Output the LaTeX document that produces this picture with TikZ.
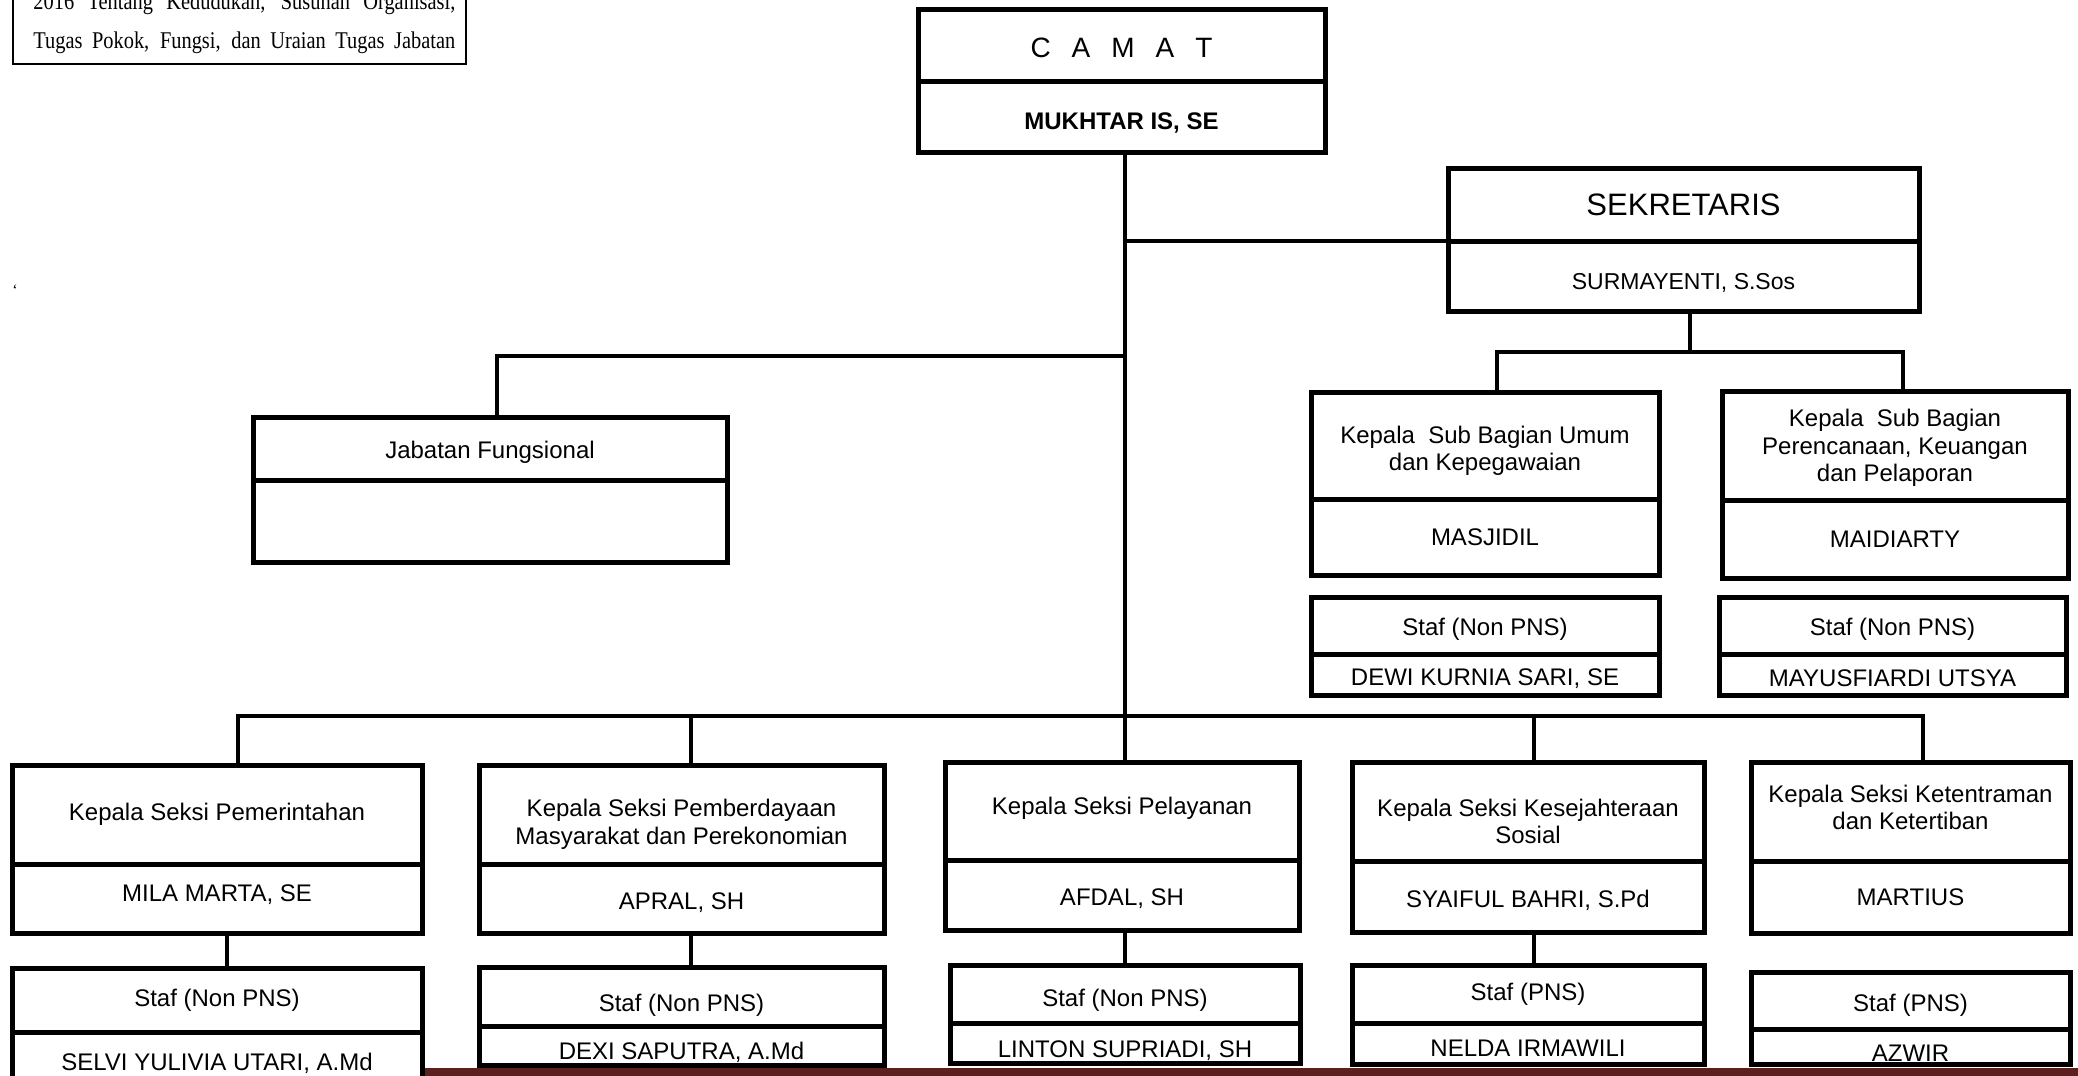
\documentclass[tikz,border=0pt]{standalone}
\usepackage{graphicx}
\usepackage{fontspec}
\setmainfont{Liberation Sans}
\newfontfamily\timesf{Liberation Serif}
\definecolor{stripred}{HTML}{5E1F1F}
\tikzset{
  part/.style={draw, line width=2.5pt, inner sep=0pt, outer sep=0pt, align=center,
    font=\fontsize{12}{13.8}\selectfont, anchor=north west},
  conn/.style={line width=2pt},
  notetext/.style={anchor=base west, inner sep=0pt, font=\timesf\fontsize{12}{14}\selectfont}
}
\newcommand{\lowr}[2]{\raisebox{-#1}[\height][\depth]{#2}}
\newcommand{\noteline}[1]{\scalebox{0.85}[1]{\makebox[248.2pt][s]{#1}}}
\newcommand{\twopart}[8]{%
  \node[part, minimum width={(#3-#2)*0.5pt}, minimum height={(#5-#4)*0.5pt}] (#1T) at (#2,#4) {#7};
  \node[part, minimum width={(#3-#2)*0.5pt}, minimum height={(#6-#5)*0.5pt}] (#1B) at (#2,#5) {#8};}
\begin{document}
\begin{tikzpicture}[x=0.5pt, y=-0.5pt]
\useasboundingbox (0,0) rectangle (2078,1076);
\begin{scope}
\clip (0,0) rectangle (2078,1076);
\fill[white] (0,0) rectangle (2078,1076);

% note box (top left)
\node[draw, line width=1pt, anchor=north west, inner sep=0pt, outer sep=0pt,
  minimum width={(466-13)*0.5pt}, minimum height={(64+20)*0.5pt}] (note) at (13,-20) {};
\node[notetext] (l1) at (33,10) {\noteline{2016 Tentang Kedudukan, Susunan Organisasi,}};
\node[notetext] (l2) at (33,48) {\noteline{Tugas Pokok, Fungsi, dan Uraian Tugas Jabatan}};
\node[inner sep=0pt, font=\timesf\fontsize{8}{9}\selectfont] (q) at (15,290) {‘};

% boxes
\twopart{camat}{918}{1325}{9}{81}{152}{\fontsize{14}{16}\selectfont\lowr{1.3pt}{C\hspace{0.75em}A\hspace{0.75em}M\hspace{0.75em}A\hspace{0.75em}T}}{\bfseries\lowr{3.3pt}{MUKHTAR IS, SE}}
\twopart{sek}{1448}{1919}{168}{241}{311}{\fontsize{15.5}{18}\selectfont SEKRETARIS}{\fontsize{11.5}{13}\selectfont\lowr{3.3pt}{SURMAYENTI, S.Sos}}
\twopart{jab}{253}{727}{417}{480}{562}{\lowr{2pt}{Jabatan Fungsional}}{}
\twopart{umum}{1311}{1659}{392}{499}{575}{\lowr{2.6pt}{Kepala\ \ Sub Bagian Umum}\\\lowr{2.6pt}{dan Kepegawaian}}{MASJIDIL}
\twopart{ren}{1722}{2068}{391}{500}{578}{\lowr{1.3pt}{Kepala\ \ Sub Bagian}\\\lowr{1.3pt}{Perencanaan, Keuangan}\\\lowr{1.3pt}{dan Pelaporan}}{MAIDIARTY}
\twopart{sumum}{1311}{1659}{597}{654}{695}{\lowr{2pt}{Staf (Non PNS)}}{\lowr{2pt}{DEWI KURNIA SARI, SE}}
\twopart{sren}{1719}{2066}{597}{654}{695}{\lowr{2pt}{Staf (Non PNS)}}{\lowr{2pt}{MAYUSFIARDI UTSYA}}

\twopart{pem}{12}{422}{765}{864}{933}{Kepala Seksi Pemerintahan}{\lowr{-2pt}{MILA MARTA, SE}}
\twopart{spem}{12}{422}{968}{1032}{1086}{Staf (Non PNS)}{\lowr{2pt}{SELVI YULIVIA UTARI, A.Md}}
\twopart{pmd}{479}{884}{765}{864}{933}{\lowr{5pt}{Kepala Seksi Pemberdayaan}\\\lowr{5pt}{Masyarakat dan Perekonomian}}{\lowr{2pt}{APRAL, SH}}
\twopart{spmd}{479}{884}{967}{1026}{1065}{\lowr{4.3pt}{Staf (Non PNS)}}{\lowr{3.3pt}{DEXI SAPUTRA, A.Md}}
\twopart{pel}{945}{1299}{762}{860}{930}{\lowr{-1.3pt}{Kepala Seksi Pelayanan}}{\lowr{2pt}{AFDAL, SH}}
\twopart{spel}{950}{1300}{965}{1023}{1063}{\lowr{3.3pt}{Staf (Non PNS)}}{\lowr{4pt}{LINTON SUPRIADI, SH}}
\twopart{kes}{1352}{1704}{762}{861}{932}{\lowr{5pt}{Kepala Seksi Kesejahteraan}\\\lowr{5pt}{Sosial}}{\lowr{2pt}{SYAIFUL BAHRI, S.Pd}}
\twopart{skes}{1352}{1704}{965}{1023}{1064}{Staf (PNS)}{\lowr{2.6pt}{NELDA IRMAWILI}}
\twopart{ket}{1751}{2070}{762}{861}{933}{\lowr{-2pt}{Kepala Seksi Ketentraman}\\\lowr{-2pt}{dan Ketertiban}}{MARTIUS}
\twopart{sket}{1751}{2070}{972}{1029}{1064}{\lowr{2.6pt}{Staf (PNS)}}{\lowr{3.3pt}{AZWIR}}

% connectors
\coordinate (spine) at (1125,0);
\draw[conn] (spine |- camatB.south) -- (spine |- pelT.north);
\draw[conn] (spine |- sekT.south west) -- (sekT.south west);
\coordinate (jabJ) at (497,356);
\draw[conn] (spine |- jabJ) -- (jabJ) -- (jabJ |- jabT.north);
\coordinate (sekJ) at (1690,352);
\draw[conn] (sekJ |- sekB.south) -- (sekJ);
\coordinate (umJ) at (1497,352);
\coordinate (reJ) at (1903,352);
\draw[conn] (umJ |- umumT.north) -- (umJ) -- (reJ) -- (reJ |- renT.north);

\coordinate (b1J) at (238,716);
\coordinate (b2J) at (691,716);
\coordinate (b4J) at (1534,716);
\coordinate (b5J) at (1923,716);
\draw[conn] (b1J |- pemT.north) -- (b1J) -- (b5J) -- (b5J |- ketT.north);
\draw[conn] (b2J) -- (b2J |- pmdT.north);
\draw[conn] (b4J) -- (b4J |- kesT.north);

\coordinate (s1) at (227,0);
\draw[conn] (s1 |- pemB.south) -- (s1 |- spemT.north);
\draw[conn] (b2J |- pmdB.south) -- (b2J |- spmdT.north);
\draw[conn] (spine |- pelB.south) -- (spine |- spelT.north);
\draw[conn] (b4J |- kesB.south) -- (b4J |- skesT.north);

% bottom strip
\fill[stripred] (425,1068) rectangle (2078,1076);
\end{scope}
\end{tikzpicture}
\end{document}
